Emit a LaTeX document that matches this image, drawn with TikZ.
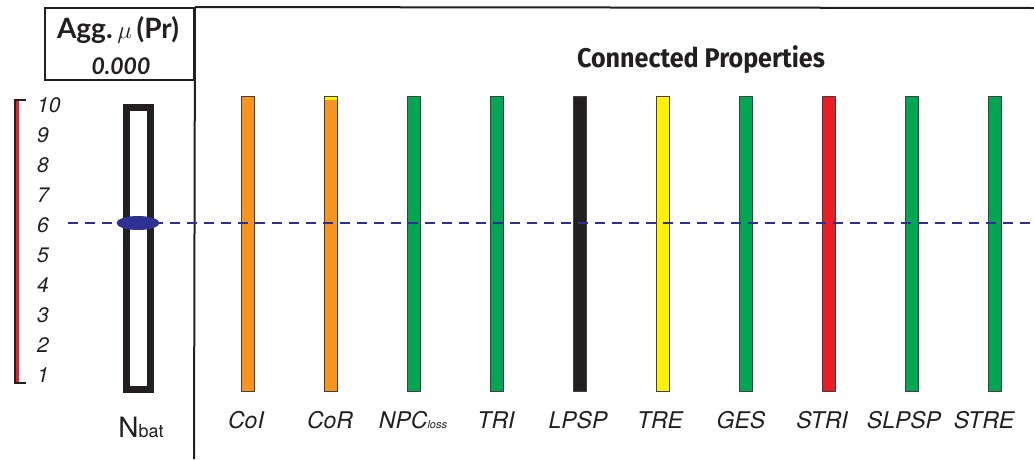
\documentclass[tikz,border=0pt]{standalone}
\usepackage{fontspec}
\setmainfont{TeX Gyre Heros}
\newfontfamily\aggfont{Lato}
\newfontfamily\headfont[FakeStretch=0.93]{Fira Sans}
\usetikzlibrary{shapes.geometric}
\definecolor{ink}{HTML}{231F20}
\definecolor{barEdge}{HTML}{404040}
\definecolor{propOrange}{HTML}{F7941D}
\definecolor{propGreen}{HTML}{00A651}
\definecolor{propYellow}{HTML}{FFF200}
\definecolor{propRed}{HTML}{ED1C24}
\definecolor{levelBlue}{HTML}{2E3192}

\begin{document}
\begin{tikzpicture}[x=1pt, y=-1pt,
  rule/.style={draw=ink, line width=2pt},
  bar/.style={draw=barEdge, line width=1.2pt, minimum width=13pt, minimum height=295pt, inner sep=0pt},
  prop/.style={anchor=base, font=\fontsize{23}{23}\selectfont\itshape, text=ink, inner sep=0pt},
  tick/.style={anchor=base west, font=\fontsize{21}{21}\selectfont\itshape, text=ink, inner sep=0pt},
  level/.style={draw=levelBlue, line width=2.5pt, dash pattern=on 10pt off 7pt}
]
\useasboundingbox (0,0) rectangle (1034,459);

\node[rule, minimum width=149pt, minimum height=72pt, inner sep=0pt] (agg) at (119.5,44) {};
\node[anchor=base, font=\aggfont\fontsize{28}{28}\selectfont\bfseries, text=ink] (aggname) at (118,38) {Agg.\,$\mu$\,(Pr)};
\node[anchor=base, font=\aggfont\fontsize{23}{23}\selectfont\bfseries\itshape, text=ink] (aggval) at (121,74) {0.000};
\coordinate (topR) at (1034,8);
\coordinate (divB) at (194,459);
\draw[rule] (agg.north east) -- (topR);
\draw[rule] (agg.north east) -- (divB);

\node[anchor=base, font=\headfont\fontsize{27}{27}\selectfont\bfseries, text=ink] (conn) at (701,67) {Connected Properties};

\draw[ink, line width=2pt] (26,100) -- (14.5,100) -- (14.5,383) -- (26,383);
\draw[propRed, line width=3.5pt] (17.5,101) -- (17.5,382);
\foreach \n in {1,...,10}
  \node[tick] (tick\n) at (37,{112+30*(10-\n)}) {\n};

\node[draw=ink, line width=7pt, minimum width=24pt, minimum height=282pt, inner sep=0pt] (nbat) at (138.5,248.5) {};
\node[anchor=base, font=\fontsize{28}{28}\selectfont, text=ink, inner sep=0pt] (nbatlbl) at (141,437) {N{\fontsize{18}{18}\selectfont bat}};

\foreach \name/\col/\lx/\txt [count=\i from 0] in {
    coi/propOrange/246/CoI, cor/propOrange/330/CoR,
    npc/propGreen/413/{NPC{\fontsize{11}{11}\selectfont loss}}, tri/propGreen/496/TRI,
    lpsp/ink/578/LPSP, tre/propYellow/660/TRE, ges/propGreen/741/GES,
    stri/propRed/822/STRI, slpsp/propGreen/904/SLPSP, stre/propGreen/984/STRE} {
  \node[bar, fill=\col] (\name) at ({248+83*\i},244) {};
  \node[prop] (\name lbl) at (\lx,428) {\txt};
}
\fill[propYellow] ([shift={(1,1)}]cor.north west) rectangle ([shift={(-1,4)}]cor.north east);

\coordinate (dashL) at (68,223);
\coordinate (dashR) at (1034,223);
\draw[level] (dashL) -- (dashR);
\node[ellipse, fill=levelBlue, minimum width=43pt, minimum height=14pt, inner sep=0pt] (mu) at (138,223) {};
\end{tikzpicture}
\end{document}
